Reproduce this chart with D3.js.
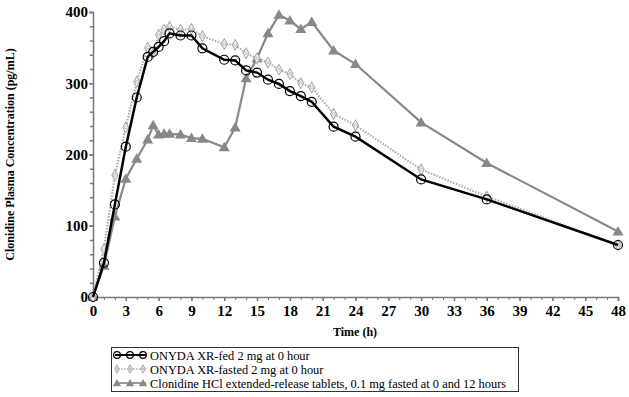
<!DOCTYPE html>
<html lang="en">
<head>
  <meta charset="UTF-8">
  <title>Clonidine Plasma Concentration</title>
  <script src="https://d3js.org/d3.v7.min.js"></script>
  <style>
    body { margin: 0; padding: 0; background: #fff; }
    svg { display: block; font-family: "Liberation Serif", "Times New Roman", serif; }
  </style>
</head>
<body>
  <div id="chart"></div>
  <script>
    // sampling times (h)
    const times = [0, 1, 2, 3, 4, 5, 5.5, 6, 6.5, 7, 8, 9, 10, 12, 13, 14, 15, 16, 17, 18, 19, 20, 22, 24, 30, 36, 48];

    // concentrations (pg/mL) per series
    const fed     = [0, 48, 130, 211, 280, 337, 344, 351, 359, 370, 367, 367, 349, 333, 332, 318, 315, 305, 299, 289, 282, 274, 239, 225, 165, 137, 73];
    const fasted  = [0, 67, 171, 238, 302, 350, 342, 368, 375, 379, 375, 376, 366, 355, 354, 342, 335, 329, 319, 313, 300, 294, 257, 241, 179, 141, 73];
    const clonIR  = [0, 44, 113, 166, 194, 221, 241, 228, 229, 229, 228, 223, 222, 210, 238, 307, 335, 370, 396, 388, 376, 386, 346, 327, 245, 188, 92];

    const seriesNames = [
      "ONYDA XR-fed 2 mg at 0 hour",
      "ONYDA XR-fasted 2 mg at 0 hour",
      "Clonidine HCl extended-release tablets, 0.1 mg fasted at 0 and 12 hours"
    ];
    const xTicks = d3.range(0, 49, 3);
    const yTicks = [0, 100, 200, 300, 400];

    const W = 629, H = 397;
    const svg = d3.select("#chart").append("svg").attr("width", W).attr("height", H);

    const x = d3.scaleLinear().domain([0, 48]).range([93, 618]);
    const y = d3.scaleLinear().domain([0, 400]).range([297, 12]);

    const axisColor = "#777";

    // x axis
    const gx = svg.append("g").attr("transform", `translate(0,${y(0)})`);
    gx.call(d3.axisBottom(x).tickValues(d3.range(0, 49, 1)).tickSize(3).tickFormat(""));
    gx.call(g => g.selectAll(".tick line").attr("stroke", axisColor));
    const gx2 = svg.append("g").attr("transform", `translate(0,${y(0)})`);
    gx2.call(d3.axisBottom(x).tickValues(xTicks).tickSize(4).tickPadding(4));
    gx2.selectAll(".domain, .tick line").attr("stroke", axisColor).attr("stroke-width", 1.5);
    gx2.selectAll(".tick text")
      .attr("font-family", "Liberation Serif, serif")
      .attr("font-weight", "bold").attr("font-size", 15).attr("fill", "#000");

    // y axis
    const gy = svg.append("g").attr("transform", `translate(${x(0)},0)`);
    gy.call(d3.axisLeft(y).tickValues(d3.range(0, 401, 20)).tickSize(3).tickFormat(""));
    gy.selectAll(".domain, .tick line").attr("stroke", axisColor).attr("stroke-width", 1.5);
    const gy2 = svg.append("g").attr("transform", `translate(${x(0)},0)`);
    gy2.call(d3.axisLeft(y).tickValues(yTicks).tickSize(4).tickPadding(1));
    gy2.select(".domain").remove();
    gy2.selectAll(".tick line").attr("stroke", axisColor).attr("stroke-width", 1.5);
    gy2.selectAll(".tick text")
      .attr("font-family", "Liberation Serif, serif")
      .attr("font-weight", "bold").attr("font-size", 15).attr("fill", "#000");

    // axis titles
    svg.append("text")
      .attr("x", 355).attr("y", 336)
      .attr("text-anchor", "middle")
      .attr("font-weight", "bold").attr("font-size", 12)
      .text("Time (h)");
    svg.append("text")
      .attr("transform", `translate(14,${y(200)}) rotate(-90)`)
      .attr("text-anchor", "middle")
      .attr("font-weight", "bold").attr("font-size", 12)
      .text("Clonidine Plasma Concentration (pg/mL)");

    const line = d3.line().x(d => x(d.t)).y(d => y(d.v));
    const toPts = vals => times.map((t, i) => ({ t, v: vals[i] }));

    const styles = [
      { vals: fed, color: "#000", width: 2.5, dash: null, marker: "circle", size: 4.5 },
      { vals: fasted, color: "#aaa", width: 2.2, dash: "1.5,1.5", marker: "diamond", size: 3.8 },
      { vals: clonIR, color: "#888", width: 2.2, dash: null, marker: "triangle", size: 4.5 }
    ];

    function drawMarker(g, kind, cx, cy, color, size) {
      if (kind === "circle") {
        g.append("circle").attr("cx", cx).attr("cy", cy).attr("r", size)
          .attr("fill", "none").attr("stroke", color).attr("stroke-width", 1.2);
      } else if (kind === "diamond") {
        g.append("path")
          .attr("d", d3.symbol(d3.symbolDiamond, size * size * 2.2)())
          .attr("transform", `translate(${cx},${cy})`)
          .attr("fill", "#fff").attr("stroke", color).attr("stroke-width", 1.1);
        g.append("circle").attr("cx", cx).attr("cy", cy).attr("r", size * 0.35)
          .attr("fill", "none").attr("stroke", color).attr("stroke-width", 0.8);
      } else {
        g.append("path")
          .attr("d", d3.symbol(d3.symbolTriangle, size * size * 2.6)())
          .attr("transform", `translate(${cx},${cy + 0.8})`)
          .attr("fill", color).attr("stroke", "none");
      }
    }

    // draw back-to-front: clonidine IR, fasted, fed
    [2, 1, 0].forEach(i => {
      const s = styles[i];
      const pts = toPts(s.vals);
      const g = svg.append("g");
      g.append("path").datum(pts)
        .attr("fill", "none").attr("stroke", s.color).attr("stroke-width", s.width)
        .attr("stroke-dasharray", s.dash).attr("d", line);
      pts.forEach(p => drawMarker(g, s.marker, x(p.t), y(p.v), s.color, s.size));
    });

    // legend
    const lg = svg.append("g");
    lg.append("rect").attr("x", 111.5).attr("y", 347.5).attr("width", 407).attr("height", 44)
      .attr("fill", "#fff").attr("stroke", "#333").attr("stroke-width", 1);
    styles.forEach((s, i) => {
      const ly = 355 + i * 14;
      lg.append("line").attr("x1", 115).attr("x2", 146).attr("y1", ly).attr("y2", ly)
        .attr("stroke", s.color).attr("stroke-width", s.width - 0.5).attr("stroke-dasharray", s.dash);
      [117, 130, 143].forEach(mx => drawMarker(lg, s.marker, mx, ly, s.color, s.size * 0.75));
      lg.append("text").attr("x", 150).attr("y", ly + 4.5)
        .attr("font-size", 12.4).attr("fill", "#000")
        .text(seriesNames[i]);
    });
  </script>
</body>
</html>
